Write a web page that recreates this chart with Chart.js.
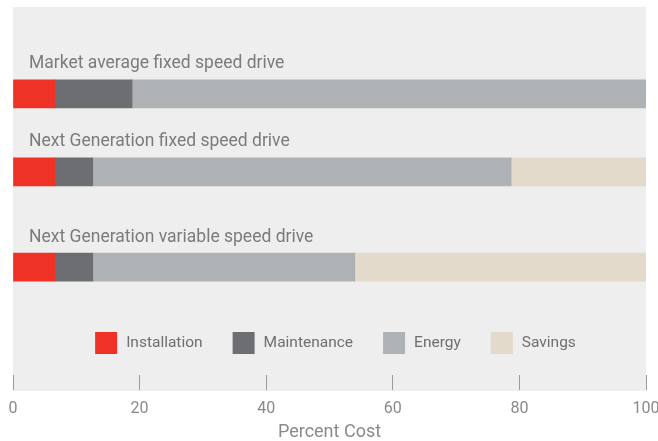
<!DOCTYPE HTML>
<html lang="en">
<head>
<meta charset="UTF-8">
<title>Percent Cost</title>
<script src="https://cdn.jsdelivr.net/npm/chart.js@4"></script>
<style>
  html, body { margin: 0; padding: 0; background: #ffffff; }
  #wrap { width: 658px; height: 441px; }
</style>
</head>
<body>
<div id="wrap"><canvas id="mychart"></canvas></div>

<script>
// rows (top to bottom) and where they sit on the hidden vertical scale (0 = top, 100 = bottom)
var categories = ['Market average fixed speed drive', 'Next Generation fixed speed drive', 'Next Generation variable speed drive'];
var rowPositions = [23.6, 44.8, 70.7];

// percent cost per component
var installation = [6.6, 6.6, 6.6];
var maintenance  = [12.2, 6, 6];
var energy       = [81.2, 66.1, 41.4];
var savings      = [0, 21.3, 46];

var seriesNames = ['Installation', 'Maintenance', 'Energy', 'Savings'];
var xTicks = [0, 20, 40, 60, 80, 100];

var colors = {
    installation: '#ef3226',
    maintenance: '#6d6e72',
    energy: '#afb2b5',
    savings: '#e3dacc',
    panel: '#eeeeee',
    label: '#7b7b7b',
    tick: '#8a8a8a'
};

function rows(values) {
    return rowPositions.map(function(p, i) { return { x: values[i], y: p }; });
}

// grey panel behind the plot (reaches down over the tick marks)
var panelPlugin = {
    id: 'panel',
    beforeDraw: function(chart) {
        var a = chart.chartArea, ctx = chart.ctx;
        ctx.save();
        ctx.fillStyle = colors.panel;
        ctx.fillRect(a.left, a.top, a.right - a.left, a.bottom - a.top + 16);
        ctx.restore();
    }
};

// row titles above each bar + legend inside the panel
var labelsPlugin = {
    id: 'rowLabels',
    afterDatasetsDraw: function(chart) {
        var a = chart.chartArea, ctx = chart.ctx, y = chart.scales.y;
        ctx.save();
        ctx.font = '17.5px Roboto';
        ctx.fillStyle = colors.label;
        ctx.textBaseline = 'middle';
        ctx.textAlign = 'left';
        categories.forEach(function(name, i) {
            var cy = y.getPixelForValue(rowPositions[i]);
            ctx.fillText(name, a.left + 16, cy - 14 - 16);
        });

        // legend
        ctx.font = '15.5px Roboto';
        var box = 22, gap = 9, itemGap = 30;
        var widths = chart.data.datasets.map(function(ds) { return box + gap + ctx.measureText(ds.label).width; });
        var total = widths.reduce(function(s, w) { return s + w; }, 0) + itemGap * (widths.length - 1);
        var x = (a.left + a.right) / 2 - total / 2 + 6;
        var ly = a.bottom - 32;
        chart.data.datasets.forEach(function(ds, i) {
            ctx.fillStyle = ds.backgroundColor;
            ctx.fillRect(x, ly - box / 2, box, box);
            ctx.fillStyle = '#6f6f6f';
            ctx.fillText(ds.label, x + box + gap, ly);
            x += widths[i] + itemGap;
        });
        ctx.restore();
    }
};

window.addEventListener('load', function() {
    var ctx = document.getElementById('mychart');
    var ds = function(label, values, color) {
        return { label: label, data: rows(values), backgroundColor: color, borderWidth: 0, barThickness: 28 };
    };
    new Chart(ctx, {
        type: 'bar',
        data: {
            datasets: [
                ds(seriesNames[0], installation, colors.installation),
                ds(seriesNames[1], maintenance, colors.maintenance),
                ds(seriesNames[2], energy, colors.energy),
                ds(seriesNames[3], savings, colors.savings)
            ]
        },
        options: {
            indexAxis: 'y',
            responsive: true,
            maintainAspectRatio: false,
            animation: false,
            layout: { padding: { left: 13, right: 12, top: 7, bottom: 0 } },
            plugins: {
                legend: { display: false },
                tooltip: { enabled: false }
            },
            scales: {
                x: {
                    type: 'linear',
                    stacked: true,
                    min: 0,
                    max: 100,
                    afterBuildTicks: function(scale) {
                        scale.ticks = xTicks.map(function(v) { return { value: v }; });
                    },
                    afterFit: function(scale) {
                        // let the last tick label run to the canvas edge like the original
                        scale.paddingLeft = 0;
                        scale.paddingRight = 0;
                        scale.height = 66;
                    },
                    border: { display: false },
                    grid: { drawOnChartArea: false, drawTicks: true, tickLength: 15, color: '#9a9a9a', lineWidth: 1 },
                    ticks: { color: colors.tick, font: { family: 'Roboto', size: 16 }, padding: 9, maxRotation: 0 },
                    title: { display: true, text: 'Percent Cost', color: colors.tick, font: { family: 'Roboto', size: 18 }, padding: { top: 3, bottom: -2 } }
                },
                y: {
                    type: 'linear',
                    stacked: true,
                    reverse: true,
                    offset: false,
                    min: 0,
                    max: 100,
                    display: false
                }
            }
        },
        plugins: [panelPlugin, labelsPlugin]
    });
});
</script>
</body>
</html>
